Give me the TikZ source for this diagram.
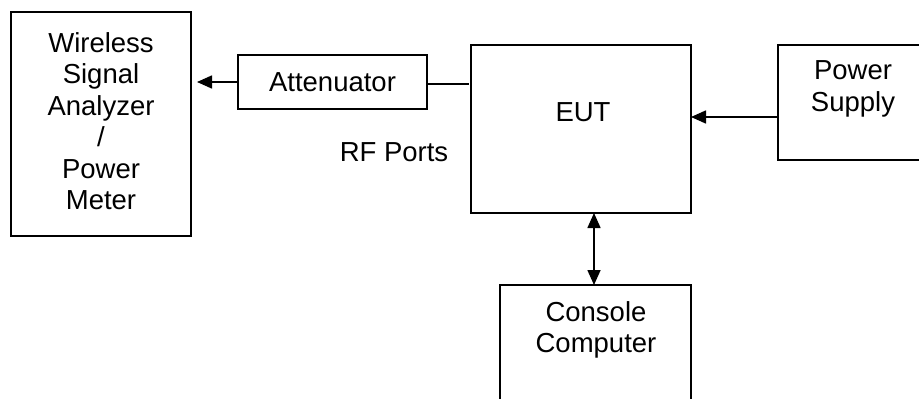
\documentclass[tikz,border=0pt]{standalone}
\usepackage{fontspec}
\setmainfont{Liberation Sans}
\usetikzlibrary{arrows.meta}
\begin{document}
\begin{tikzpicture}[x=1pt,y=-1pt,
  box/.style={draw,line width=1.6pt,inner sep=0pt,outer sep=0pt},
  txt/.style={align=center,inner sep=0pt,font=\fontsize{27.5}{31.5}\selectfont},
  tip/.style={Triangle[length=15pt,width=13pt]},
  arr/.style={line width=1.6pt,-{Triangle[length=15pt,width=13pt]}},
  line width=1.6pt]
\useasboundingbox (0,0) rectangle (919,399);
\clip (0,0) rectangle (919,399);
\node[box,minimum width=180pt,minimum height=224pt] (wsa) at (101,124) {};
\node[txt] (wsatext) at (101,121) {Wireless\\Signal\\Analyzer\\/\\Power\\Meter};
\node[box,minimum width=189pt,minimum height=54pt] (att) at (332.5,82) {};
\node[txt] (atttext) at (332.5,82) {Attenuator};
\node[box,minimum width=220pt,minimum height=168pt] (eut) at (581,129) {};
\node[txt] (euttext) at (583,112) {EUT};
\node[box,minimum width=160pt,minimum height=115pt] (ps) at (858,102.5) {};
\node[txt] (pstext) at (853,89) {Power\\Supply};
\node[box,minimum width=191pt,minimum height=130pt] (cc) at (595.5,350) {};
\node[txt] (cctext) at (596,330) {Console\\Computer};
\node[txt] (rf) at (394,152) {RF Ports};
\draw[arr,shorten >=6pt] (att.west) -- (wsa.east |- att.west);
\draw[shorten >=2pt] ([yshift=-2pt]att.east) -- ([yshift=-2pt]eut.west |- att.east);
\draw[arr] (ps.west |- 0,117) -- (eut.east |- 0,117);
\draw[{Triangle[length=15pt,width=13pt]}-{Triangle[length=15pt,width=13pt]}] (eut.south -| 594,0) -- (cc.north -| 594,0);
\end{tikzpicture}
\end{document}
